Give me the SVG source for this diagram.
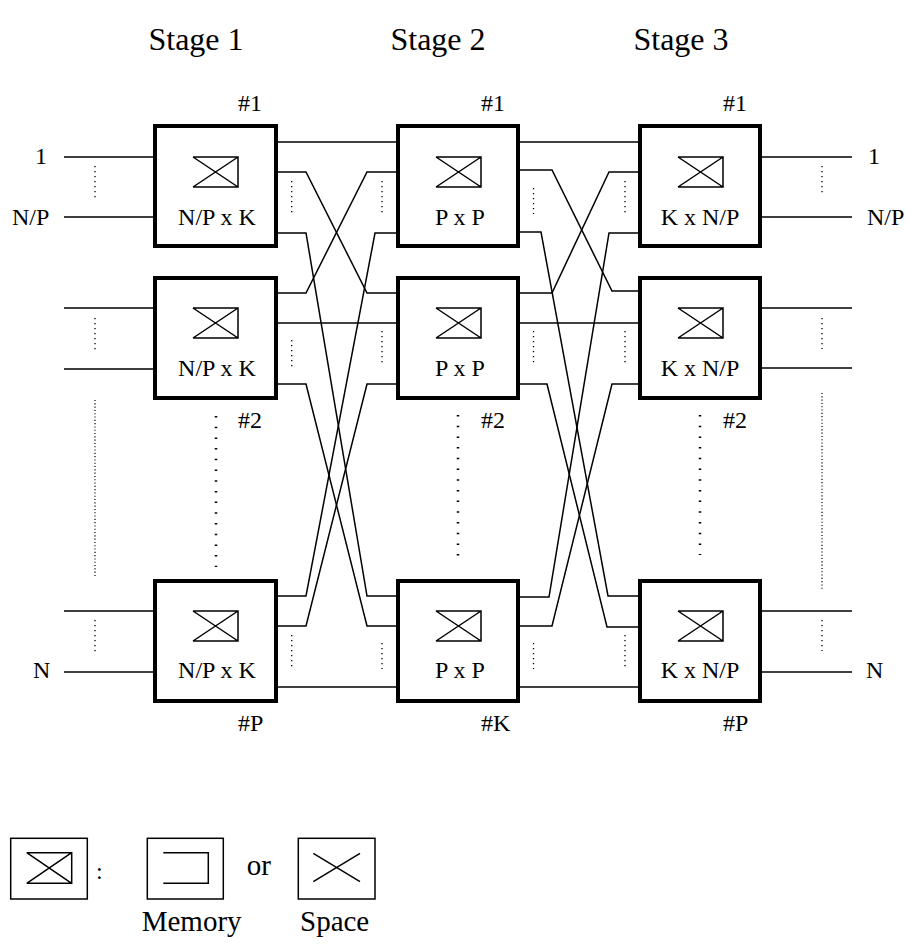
<svg xmlns="http://www.w3.org/2000/svg" width="907" height="946" viewBox="0 0 907 946">
<style>
text{font-family:"Liberation Serif","Times New Roman",serif;fill:#000}
.t{font-size:32px;text-anchor:middle}
.lb{font-size:24px;text-anchor:middle}
.n{font-size:24px}
.lg{font-size:29px}
.box{fill:#fff;stroke:#000;stroke-width:4}
.ic{fill:none;stroke:#000;stroke-width:1.5}
.ln{fill:none;stroke:#000;stroke-width:1.5}
.d{fill:none;stroke:#000;stroke-width:1.3;stroke-dasharray:1.3 3.7}
.dl{fill:none;stroke:#000;stroke-width:1.2;stroke-dasharray:1.1 2.2}
.dm{fill:none;stroke:#000;stroke-width:2.5;stroke-dasharray:1.5 9.2}
.lgb{fill:#fff;stroke:#000;stroke-width:1.5}
</style>
<defs>
<path id="sw" d="M0,0 H45 V30 H0 M0,0 L45,30 M0,30 L45,0" class="ic"/>
</defs>

<g id="titles">
<text class="t" x="196" y="50">Stage 1</text>
<text class="t" x="438" y="50">Stage 2</text>
<text class="t" x="681" y="50">Stage 3</text>
</g>

<g id="connectors">
<path class="ln" d="M64,157 H153 M64,217 H153 M64,308 H153 M64,369 H153 M64,611 H153 M64,672 H153"/>
<path class="ln" d="M762,157 H852 M762,217 H852 M762,308 H852 M762,368 H852 M762,611 H852 M762,672 H852"/>
<path class="ln" d="M278,142 H396"/>
<path class="ln" d="M278,172 H306 L367,293 H396"/>
<path class="ln" d="M278,233 H306 L367,596 H396"/>
<path class="ln" d="M278,293 H306 L367,172 H396"/>
<path class="ln" d="M278,323 H396"/>
<path class="ln" d="M278,384 H306 L367,626 H396"/>
<path class="ln" d="M278,596 H306 L375,233 H396"/>
<path class="ln" d="M278,626 H306 L367,384 H396"/>
<path class="ln" d="M278,687 H396"/>
<path class="ln" d="M520,142 H638"/>
<path class="ln" d="M520,170 H552 L612,291 H638"/>
<path class="ln" d="M520,232 H541 L608,596 H638"/>
<path class="ln" d="M520,293 H552 L609,172 H638"/>
<path class="ln" d="M520,323 H638"/>
<path class="ln" d="M520,384 H547 L607,627 H638"/>
<path class="ln" d="M520,597 H549 L609,233 H638"/>
<path class="ln" d="M520,626 H552 L612,384 H638"/>
<path class="ln" d="M520,687 H638"/>
</g>

<g id="dots">
<path class="d" d="M95,166 V198 M95,318 V350 M95,620 V652"/>
<path class="d" d="M822,166 V194 M822,318 V349 M822,620 V651"/>
<path class="d" d="M291.7,181 V213 M291.7,340 V368 M291.7,635 V668"/>
<path class="d" d="M382,181 V213 M382,331 V364 M382,643 V669"/>
<path class="d" d="M533.5,188 V214 M533.5,331 V366 M533.5,643 V669"/>
<path class="d" d="M625,181 V213 M625,331 V364 M625,635 V668"/>
<path class="dl" d="M95,400 V578"/>
<path class="dl" d="M822,393 V591"/>
<path class="dm" d="M216,416 V567"/>
<path class="dm" d="M458,415 V558"/>
<path class="dm" d="M700,415 V555"/>
</g>

<g id="io-labels">
<text class="n" x="35" y="164">1</text>
<text class="n" x="12" y="225">N/P</text>
<text class="n" x="33" y="678">N</text>
<text class="n" x="868" y="164">1</text>
<text class="n" x="867" y="225">N/P</text>
<text class="n" x="866" y="678">N</text>
</g>

<g id="s1b1">
<rect class="box" x="155" y="126" width="121" height="120"/>
<use href="#sw" x="193" y="157"/>
<text class="lb" x="217" y="225">N/P x K</text>
<text class="n" x="238" y="111">#1</text>
</g>
<g id="s1b2">
<rect class="box" x="155" y="278" width="121" height="120"/>
<use href="#sw" x="193" y="308"/>
<text class="lb" x="217" y="376">N/P x K</text>
<text class="n" x="238" y="428">#2</text>
</g>
<g id="s1bp">
<rect class="box" x="155" y="581" width="121" height="120"/>
<use href="#sw" x="193" y="611"/>
<text class="lb" x="217" y="678">N/P x K</text>
<text class="n" x="238" y="731">#P</text>
</g>

<g id="s2b1">
<rect class="box" x="398" y="126" width="120" height="120"/>
<use href="#sw" x="436" y="157"/>
<text class="lb" x="460" y="225">P x P</text>
<text class="n" x="481" y="111">#1</text>
</g>
<g id="s2b2">
<rect class="box" x="398" y="278" width="120" height="120"/>
<use href="#sw" x="436" y="308"/>
<text class="lb" x="460" y="376">P x P</text>
<text class="n" x="481" y="428">#2</text>
</g>
<g id="s2bk">
<rect class="box" x="398" y="581" width="120" height="120"/>
<use href="#sw" x="436" y="611"/>
<text class="lb" x="460" y="678">P x P</text>
<text class="n" x="481" y="731">#K</text>
</g>

<g id="s3b1">
<rect class="box" x="640" y="126" width="120" height="120"/>
<use href="#sw" x="678" y="157"/>
<text class="lb" x="700" y="225">K x N/P</text>
<text class="n" x="723" y="111">#1</text>
</g>
<g id="s3b2">
<rect class="box" x="640" y="278" width="120" height="120"/>
<use href="#sw" x="678" y="308"/>
<text class="lb" x="700" y="376">K x N/P</text>
<text class="n" x="723" y="428">#2</text>
</g>
<g id="s3bp">
<rect class="box" x="640" y="581" width="120" height="120"/>
<use href="#sw" x="678" y="611"/>
<text class="lb" x="700" y="678">K x N/P</text>
<text class="n" x="723" y="731">#P</text>
</g>

<g id="legend-switch">
<rect class="lgb" x="10.7" y="838.3" width="76.6" height="60.7"/>
<path class="ic" d="M26.7,852.7 H71.7 V883.3 H26.7 M26.7,852.7 L71.7,883.3 M26.7,883.3 L71.7,852.7"/>
<text class="n" x="96" y="879">:</text>
</g>
<g id="legend-memory">
<rect class="lgb" x="147.3" y="838.3" width="76" height="60.7"/>
<path class="ic" d="M163.3,852.7 H208.3 V883.3 H163.3"/>
<text class="lg" x="141.7" y="931">Memory</text>
</g>
<text class="lg" x="246.7" y="875">or</text>
<g id="legend-space">
<rect class="lgb" x="298.3" y="838.3" width="76.7" height="60.7"/>
<path class="ic" d="M313.3,853.3 L360,881.7 M313.3,881.7 L360,853.3"/>
<text class="lg" x="300" y="931">Space</text>
</g>
</svg>
